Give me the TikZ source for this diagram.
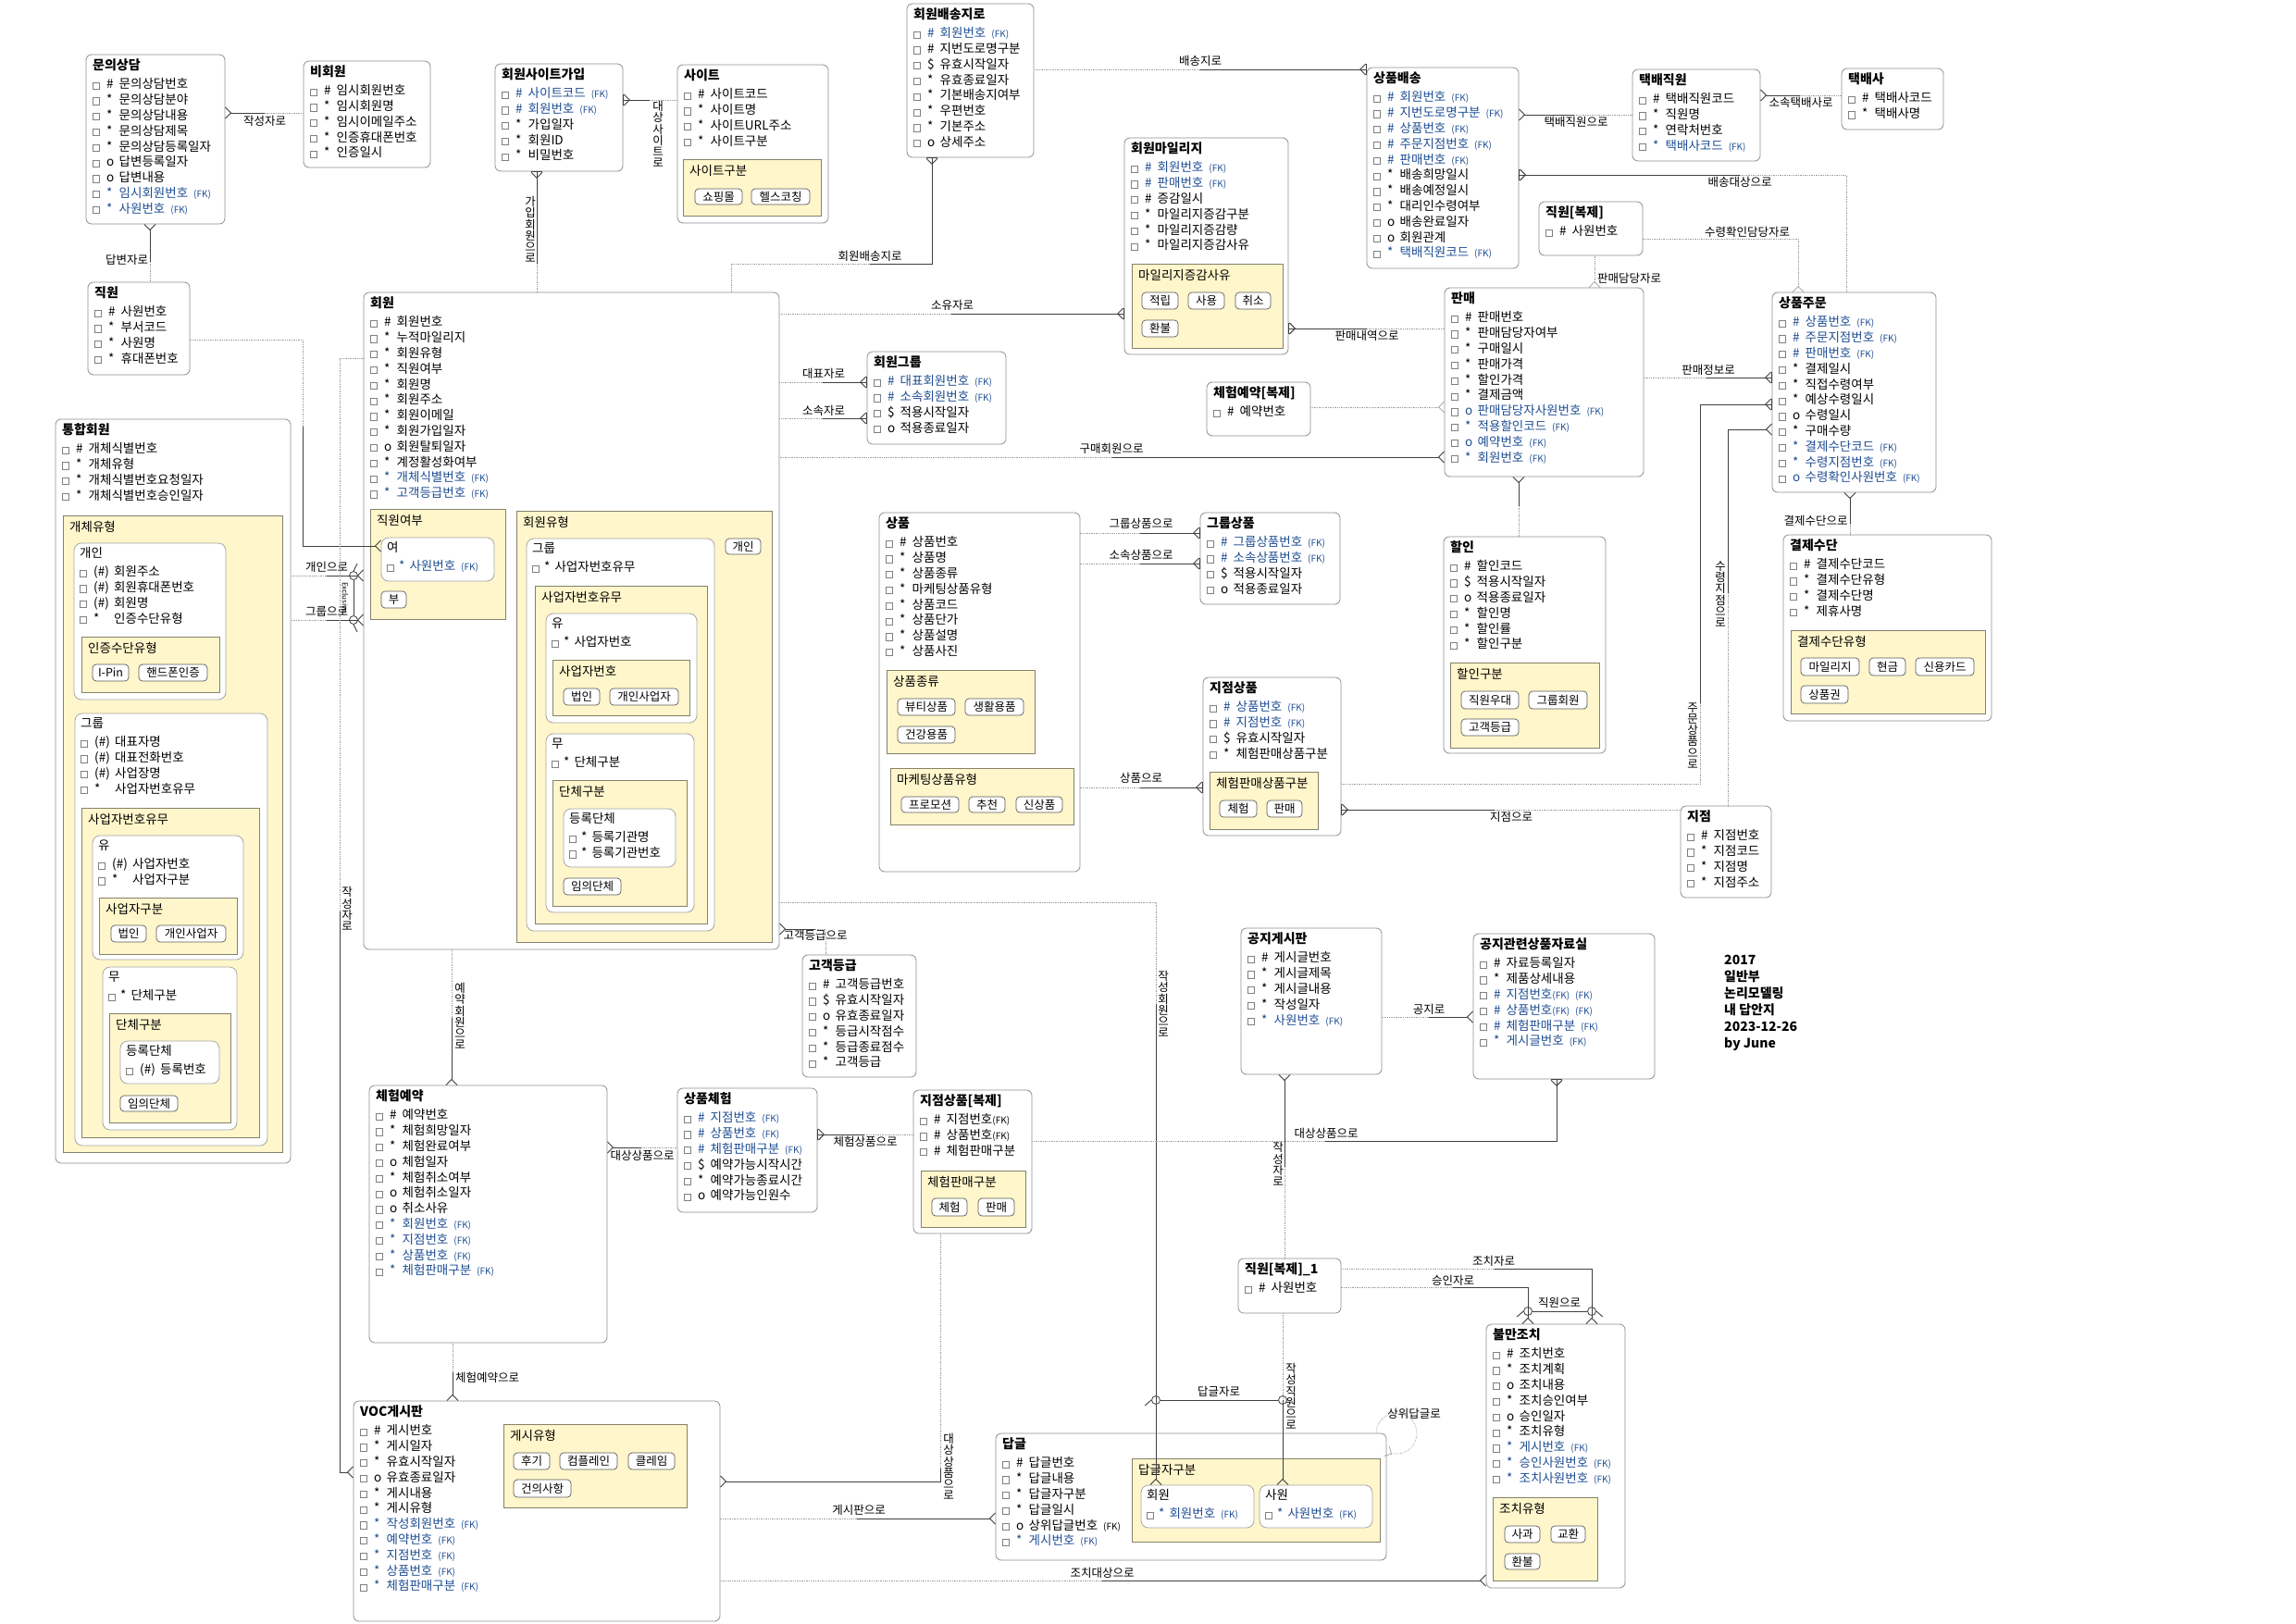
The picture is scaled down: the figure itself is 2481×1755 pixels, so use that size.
\documentclass[tikz,border=0pt]{standalone}
\usepackage{fontspec}
\setmainfont{Noto Sans CJK KR}
\usetikzlibrary{arrows.meta}

\definecolor{fkblue}{HTML}{1F4E93}
\definecolor{enumfill}{HTML}{FFF6CB}
\definecolor{enumdraw}{HTML}{85816B}
\definecolor{entdraw}{HTML}{8E8E8E}

% attribute rows
\newcommand{\chkbox}{{\color{gray}\setlength{\fboxsep}{0pt}\setlength{\fboxrule}{0.8pt}\fbox{\rule{0pt}{6.4pt}\hspace{6.4pt}}}}
\newcommand{\fksm}{{\fontsize{10}{11}\selectfont(FK)}}
\newcommand{\attr}[2]{\chkbox\hspace{7pt}\makebox[13.5pt][l]{#1}#2}
\newcommand{\fkattr}[2]{\chkbox\hspace{7pt}{\color{fkblue}\makebox[13.5pt][l]{#1}#2\hspace{6pt}\fksm}}
\newcommand{\attrw}[2]{\chkbox\hspace{7pt}\makebox[22pt][l]{#1}#2}
\newcommand{\nattr}[1]{\chkbox\hspace{5pt}*\hspace{5pt}#1}
\newcommand{\nfkattr}[1]{\chkbox\hspace{5pt}{\color{fkblue}*\hspace{5pt}#1\hspace{6pt}\fksm}}
\newcommand{\enttitle}[1]{\rule{0pt}{14pt}{\bfseries\fontsize{14}{16.8}\selectfont #1}}
\newcommand{\subttl}[1]{\rule{0pt}{14pt}#1}
\newcommand{\valbtn}[6]{\node[btn, minimum width={#4-#2}, minimum height={#5-#3}] (#1) at ({(#2+#4)/2},{(#3+#5)/2}) {#6};}

\begin{document}
\begin{tikzpicture}[
    x=1pt, y=-1pt,
    ent/.style={draw=entdraw, line width=0.8pt, rounded corners=6pt, fill=white, anchor=north west, inner sep=0pt, outer sep=0pt},
    subbox/.style={ent, rounded corners=8pt, draw=gray!70},
    enum/.style={draw=enumdraw, line width=0.9pt, fill=enumfill, anchor=north west, inner sep=0pt, outer sep=0pt},
    etxt/.style={anchor=north west, align=left, inner sep=0pt, font=\fontsize{13.5}{16.8}\selectfont},
    btn/.style={draw=gray!70!black, line width=0.7pt, rounded corners=4pt, fill=white, inner sep=0pt, font=\fontsize{12.5}{13}\selectfont},
    lbl/.style={inner sep=0pt, font=\fontsize{12.5}{12.2}\selectfont},
    vlbl/.style={lbl, align=center},
    rel/.style={draw=black!75, line width=0.9pt},
    opt/.style={draw=gray!75, line width=0.7pt, densely dotted},
    xarc/.style={circle, draw=black!75, line width=0.8pt, minimum size=9pt, inner sep=0pt},
    cf/.tip={Straight Barb[reversed, length=6pt, width=12pt]},
    cfb/.tip={Straight Barb[reversed, length=6pt, width=12pt] Bar[width=12pt]}
]
\useasboundingbox (0,0) rectangle (2481,1755);
\fill[white] (0,0) rectangle (2481,1755);

% ---------- 문의상담 / 비회원 / 직원
\node[ent, minimum width=150, minimum height=183] (munui) at (93,59) {};
\node[etxt] (munui-t) at (100,61) {\enttitle{문의상담}\\[3.8pt]
  \attr{\#}{문의상담번호}\\ \attr{*}{문의상담분야}\\ \attr{*}{문의상담내용}\\ \attr{*}{문의상담제목}\\
  \attr{*}{문의상담등록일자}\\ \attr{o}{답변등록일자}\\ \attr{o}{답변내용}\\ \fkattr{*}{임시회원번호}\\ \fkattr{*}{사원번호}};

\node[ent, minimum width=137, minimum height=115] (bihoe) at (328,66) {};
\node[etxt] (bihoe-t) at (335,68) {\enttitle{비회원}\\[3.8pt]
  \attr{\#}{임시회원번호}\\ \attr{*}{임시회원명}\\ \attr{*}{임시이메일주소}\\ \attr{*}{인증휴대폰번호}\\ \attr{*}{인증일시}};

\node[ent, minimum width=110, minimum height=100] (jikwon) at (95,305) {};
\node[etxt] (jikwon-t) at (102,307) {\enttitle{직원}\\[3.8pt]
  \attr{\#}{사원번호}\\ \attr{*}{부서코드}\\ \attr{*}{사원명}\\ \attr{*}{휴대폰번호}};

% ---------- 회원사이트가입 / 사이트 / 회원배송지로
\node[ent, minimum width=138, minimum height=116] (sitejoin) at (535,69) {};
\node[etxt] (sitejoin-t) at (542,71) {\enttitle{회원사이트가입}\\[3.8pt]
  \fkattr{\#}{사이트코드}\\ \fkattr{\#}{회원번호}\\ \attr{*}{가입일자}\\ \attr{*}{회원ID}\\ \attr{*}{비밀번호}};

\node[ent, minimum width=163, minimum height=171] (site) at (732,70) {};
\node[etxt] (site-t) at (739,72) {\enttitle{사이트}\\[3.8pt]
  \attr{\#}{사이트코드}\\ \attr{*}{사이트명}\\ \attr{*}{사이트URL주소}\\ \attr{*}{사이트구분}};
\node[enum, minimum width=149, minimum height=61] (site-kind) at (738,172) {};
\node[etxt] (site-kind-t) at (745,175) {\subttl{사이트구분}};
\valbtn{site-b1}{751}{204}{802}{221}{쇼핑몰}
\valbtn{site-b2}{812}{204}{875}{221}{헬스코칭}

\node[ent, minimum width=137, minimum height=166] (addr) at (980,4) {};
\node[etxt] (addr-t) at (987,6) {\enttitle{회원배송지로}\\[3.8pt]
  \fkattr{\#}{회원번호}\\ \attr{\#}{지번도로명구분}\\ \attr{\$}{유효시작일자}\\ \attr{*}{유효종료일자}\\
  \attr{*}{기본배송지여부}\\ \attr{*}{우편번호}\\ \attr{*}{기본주소}\\ \attr{o}{상세주소}};

% ---------- 통합회원
\node[ent, minimum width=254, minimum height=804] (tonghap) at (60,453) {};
\node[etxt] (tonghap-t) at (67,455) {\enttitle{통합회원}\\[3.8pt]
  \attr{\#}{개체식별번호}\\ \attr{*}{개체유형}\\ \attr{*}{개체식별번호요청일자}\\ \attr{*}{개체식별번호승인일자}};
\node[enum, minimum width=237, minimum height=688] (th-type) at (68,557) {};
\node[etxt] (th-type-t) at (75,560) {\subttl{개체유형}};
\node[subbox, minimum width=164, minimum height=169] (th-ind) at (80,587) {};
\node[etxt] (th-ind-t) at (86,588) {\subttl{개인}\\[3.8pt]
  \attrw{(\#)}{회원주소}\\ \attrw{(\#)}{회원휴대폰번호}\\ \attrw{(\#)}{회원명}\\ \attrw{*}{인증수단유형}};
\node[enum, minimum width=149, minimum height=60] (th-auth) at (88,688) {};
\node[etxt] (th-auth-t) at (95,691) {\subttl{인증수단유형}};
\valbtn{th-auth-b1}{100}{718}{139}{736}{I-Pin}
\valbtn{th-auth-b2}{150}{718}{224}{736}{핸드폰인증}
\node[subbox, minimum width=208, minimum height=467] (th-grp) at (81,771) {};
\node[etxt] (th-grp-t) at (87,772) {\subttl{그룹}\\[3.8pt]
  \attrw{(\#)}{대표자명}\\ \attrw{(\#)}{대표전화번호}\\ \attrw{(\#)}{사업장명}\\ \attrw{*}{사업자번호유무}};
\node[enum, minimum width=192, minimum height=356] (th-biz) at (88,873) {};
\node[etxt] (th-biz-t) at (95,876) {\subttl{사업자번호유무}};
\node[subbox, minimum width=163, minimum height=134] (th-yes) at (100,903) {};
\node[etxt] (th-yes-t) at (106,904) {\subttl{유}\\[3.8pt]
  \attrw{(\#)}{사업자번호}\\ \attrw{*}{사업자구분}};
\node[enum, minimum width=149, minimum height=61] (th-bizkind) at (107,970) {};
\node[etxt] (th-bizkind-t) at (114,973) {\subttl{사업자구분}};
\valbtn{th-bizkind-b1}{120}{1000}{158}{1018}{법인}
\valbtn{th-bizkind-b2}{169}{1000}{244}{1018}{개인사업자}
\node[subbox, minimum width=145, minimum height=176] (th-no) at (111,1045) {};
\node[etxt] (th-no-t) at (117,1046) {\subttl{무}\\[3.8pt] \nattr{단체구분}};
\node[enum, minimum width=131, minimum height=118] (th-org) at (118,1095) {};
\node[etxt] (th-org-t) at (125,1098) {\subttl{단체구분}};
\node[subbox, minimum width=107, minimum height=46] (th-reg) at (130,1125) {};
\node[etxt] (th-reg-t) at (136,1126) {\subttl{등록단체}\\[3.8pt] \attrw{(\#)}{등록번호}};
\valbtn{th-org-b1}{130}{1184}{192}{1201}{임의단체}

% ---------- 회원
\node[ent, minimum width=449, minimum height=710] (hoewon) at (393,316) {};
\node[etxt] (hoewon-t) at (400,318) {\enttitle{회원}\\[3.8pt]
  \attr{\#}{회원번호}\\ \attr{*}{누적마일리지}\\ \attr{*}{회원유형}\\ \attr{*}{직원여부}\\ \attr{*}{회원명}\\ \attr{*}{회원주소}\\
  \attr{*}{회원이메일}\\ \attr{*}{회원가입일자}\\ \attr{o}{회원탈퇴일자}\\ \attr{*}{계정활성화여부}\\ \fkattr{*}{개체식별번호}\\ \fkattr{*}{고객등급번호}};
\node[enum, minimum width=146, minimum height=119] (hm-emp) at (400,550) {};
\node[etxt] (hm-emp-t) at (407,553) {\subttl{직원여부}};
\node[subbox, minimum width=122, minimum height=47] (hm-yeo) at (412,581) {};
\node[etxt] (hm-yeo-t) at (418,582) {\subttl{여}\\[3.8pt] \nfkattr{사원번호}};
\valbtn{hm-emp-b1}{412}{639}{439}{657}{부}
\node[enum, minimum width=276, minimum height=466] (hm-type) at (558,552) {};
\node[etxt] (hm-type-t) at (565,555) {\subttl{회원유형}};
\valbtn{hm-type-b1}{784}{582}{822}{599}{개인}
\node[subbox, minimum width=203, minimum height=424] (hm-grp) at (569,582) {};
\node[etxt] (hm-grp-t) at (575,583) {\subttl{그룹}\\[3.8pt] \nattr{사업자번호유무}};
\node[enum, minimum width=186, minimum height=365] (hm-biz) at (578,633) {};
\node[etxt] (hm-biz-t) at (585,636) {\subttl{사업자번호유무}};
\node[subbox, minimum width=163, minimum height=118] (hm-yes) at (590,663) {};
\node[etxt] (hm-yes-t) at (596,664) {\subttl{유}\\[3.8pt] \nattr{사업자번호}};
\node[enum, minimum width=148, minimum height=60] (hm-bizno) at (597,713) {};
\node[etxt] (hm-bizno-t) at (604,716) {\subttl{사업자번호}};
\valbtn{hm-bizno-b1}{609}{744}{648}{762}{법인}
\valbtn{hm-bizno-b2}{659}{744}{733}{762}{개인사업자}
\node[subbox, minimum width=160, minimum height=193] (hm-no) at (590,793) {};
\node[etxt] (hm-no-t) at (596,794) {\subttl{무}\\[3.8pt] \nattr{단체구분}};
\node[enum, minimum width=145, minimum height=136] (hm-org) at (597,843) {};
\node[etxt] (hm-org-t) at (604,846) {\subttl{단체구분}};
\node[subbox, minimum width=121, minimum height=63] (hm-reg) at (609,874) {};
\node[etxt] (hm-reg-t) at (615,875) {\subttl{등록단체}\\[3.8pt] \nattr{등록기관명}\\ \nattr{등록기관번호}};
\valbtn{hm-org-b1}{609}{949}{671}{967}{임의단체}

% ---------- 회원마일리지 / 회원그룹
\node[ent, minimum width=177, minimum height=234] (mileage) at (1215,149) {};
\node[etxt] (mileage-t) at (1222,151) {\enttitle{회원마일리지}\\[3.8pt]
  \fkattr{\#}{회원번호}\\ \fkattr{\#}{판매번호}\\ \attr{\#}{증감일시}\\ \attr{*}{마일리지증감구분}\\ \attr{*}{마일리지증감량}\\ \attr{*}{마일리지증감사유}};
\node[enum, minimum width=163, minimum height=91] (mil-why) at (1223,285) {};
\node[etxt] (mil-why-t) at (1230,288) {\subttl{마일리지증감사유}};
\valbtn{mil-b1}{1234}{316}{1273}{334}{적립}
\valbtn{mil-b2}{1284}{316}{1323}{334}{사용}
\valbtn{mil-b3}{1335}{316}{1373}{334}{취소}
\valbtn{mil-b4}{1234}{346}{1273}{364}{환불}

\node[ent, minimum width=150, minimum height=100] (mgroup) at (937,380) {};
\node[etxt] (mgroup-t) at (944,382) {\enttitle{회원그룹}\\[3.8pt]
  \fkattr{\#}{대표회원번호}\\ \fkattr{\#}{소속회원번호}\\ \attr{\$}{적용시작일자}\\ \attr{o}{적용종료일자}};

% ---------- 상품배송 / 택배직원 / 택배사
\node[ent, minimum width=164, minimum height=217] (delivery) at (1477,73) {};
\node[etxt] (delivery-t) at (1484,75) {\enttitle{상품배송}\\[3.8pt]
  \fkattr{\#}{회원번호}\\ \fkattr{\#}{지번도로명구분}\\ \fkattr{\#}{상품번호}\\ \fkattr{\#}{주문지점번호}\\ \fkattr{\#}{판매번호}\\
  \attr{*}{배송희망일시}\\ \attr{*}{배송예정일시}\\ \attr{*}{대리인수령여부}\\ \attr{o}{배송완료일자}\\ \attr{o}{회원관계}\\ \fkattr{*}{택배직원코드}};

\node[ent, minimum width=138, minimum height=99] (courier) at (1764,75) {};
\node[etxt] (courier-t) at (1771,77) {\enttitle{택배직원}\\[3.8pt]
  \attr{\#}{택배직원코드}\\ \attr{*}{직원명}\\ \attr{*}{연락처번호}\\ \fkattr{*}{택배사코드}};

\node[ent, minimum width=110, minimum height=66] (company) at (1990,74) {};
\node[etxt] (company-t) at (1997,76) {\enttitle{택배사}\\[3.8pt]
  \attr{\#}{택배사코드}\\ \attr{*}{택배사명}};

% ---------- 직원[복제] / 판매 / 체험예약[복제] / 상품주문
\node[ent, minimum width=112, minimum height=58] (jikwonc) at (1663,218) {};
\node[etxt] (jikwonc-t) at (1670,220) {\enttitle{직원[복제]}\\[3.8pt] \attr{\#}{사원번호}};

\node[ent, minimum width=215, minimum height=204] (sale) at (1561,311) {};
\node[etxt] (sale-t) at (1568,313) {\enttitle{판매}\\[3.8pt]
  \attr{\#}{판매번호}\\ \attr{*}{판매담당자여부}\\ \attr{*}{구매일시}\\ \attr{*}{판매가격}\\ \attr{*}{할인가격}\\ \attr{*}{결제금액}\\
  \fkattr{o}{판매담당자사원번호}\\ \fkattr{*}{적용할인코드}\\ \fkattr{o}{예약번호}\\ \fkattr{*}{회원번호}};

\node[ent, minimum width=112, minimum height=58] (resvc) at (1304,413) {};
\node[etxt] (resvc-t) at (1311,415) {\enttitle{체험예약[복제]}\\[3.8pt] \attr{\#}{예약번호}};

\node[ent, minimum width=177, minimum height=216] (order) at (1915,316) {};
\node[etxt] (order-t) at (1922,318) {\enttitle{상품주문}\\[3.8pt]
  \fkattr{\#}{상품번호}\\ \fkattr{\#}{주문지점번호}\\ \fkattr{\#}{판매번호}\\ \attr{*}{결제일시}\\ \attr{*}{직접수령여부}\\ \attr{*}{예상수령일시}\\
  \attr{o}{수령일시}\\ \attr{*}{구매수량}\\ \fkattr{*}{결제수단코드}\\ \fkattr{*}{수령지점번호}\\ \fkattr{o}{수령확인사원번호}};

% ---------- 상품 / 그룹상품 / 지점상품 / 지점
\node[ent, minimum width=217, minimum height=388] (product) at (950,554) {};
\node[etxt] (product-t) at (957,556) {\enttitle{상품}\\[3.8pt]
  \attr{\#}{상품번호}\\ \attr{*}{상품명}\\ \attr{*}{상품종류}\\ \attr{*}{마케팅상품유형}\\ \attr{*}{상품코드}\\ \attr{*}{상품단가}\\ \attr{*}{상품설명}\\ \attr{*}{상품사진}};
\node[enum, minimum width=160, minimum height=90] (prod-kind) at (958,724) {};
\node[etxt] (prod-kind-t) at (965,727) {\subttl{상품종류}};
\valbtn{prod-kind-b1}{970}{755}{1032}{773}{뷰티상품}
\valbtn{prod-kind-b2}{1043}{755}{1106}{773}{생활용품}
\valbtn{prod-kind-b3}{970}{785}{1032}{803}{건강용품}
\node[enum, minimum width=198, minimum height=61] (prod-mkt) at (962,830) {};
\node[etxt] (prod-mkt-t) at (969,833) {\subttl{마케팅상품유형}};
\valbtn{prod-mkt-b1}{974}{861}{1036}{878}{프로모션}
\valbtn{prod-mkt-b2}{1047}{861}{1086}{878}{추천}
\valbtn{prod-mkt-b3}{1098}{861}{1148}{878}{신상품}

\node[ent, minimum width=151, minimum height=99] (gprod) at (1297,554) {};
\node[etxt] (gprod-t) at (1304,556) {\enttitle{그룹상품}\\[3.8pt]
  \fkattr{\#}{그룹상품번호}\\ \fkattr{\#}{소속상품번호}\\ \attr{\$}{적용시작일자}\\ \attr{o}{적용종료일자}};

\node[ent, minimum width=149, minimum height=171] (bprod) at (1300,732) {};
\node[etxt] (bprod-t) at (1307,734) {\enttitle{지점상품}\\[3.8pt]
  \fkattr{\#}{상품번호}\\ \fkattr{\#}{지점번호}\\ \attr{\$}{유효시작일자}\\ \attr{*}{체험판매상품구분}};
\node[enum, minimum width=117, minimum height=62] (bprod-kind) at (1307,834) {};
\node[etxt] (bprod-kind-t) at (1314,837) {\subttl{체험판매상품구분}};
\valbtn{bprod-b1}{1318}{865}{1358}{883}{체험}
\valbtn{bprod-b2}{1369}{865}{1407}{883}{판매}

\node[ent, minimum width=98, minimum height=99] (branch) at (1816,871) {};
\node[etxt] (branch-t) at (1823,873) {\enttitle{지점}\\[3.8pt]
  \attr{\#}{지점번호}\\ \attr{*}{지점코드}\\ \attr{*}{지점명}\\ \attr{*}{지점주소}};

% ---------- 할인 / 결제수단
\node[ent, minimum width=175, minimum height=234] (discount) at (1560,580) {};
\node[etxt] (discount-t) at (1567,582) {\enttitle{할인}\\[3.8pt]
  \attr{\#}{할인코드}\\ \attr{\$}{적용시작일자}\\ \attr{o}{적용종료일자}\\ \attr{*}{할인명}\\ \attr{*}{할인률}\\ \attr{*}{할인구분}};
\node[enum, minimum width=161, minimum height=92] (disc-kind) at (1567,716) {};
\node[etxt] (disc-kind-t) at (1574,719) {\subttl{할인구분}};
\valbtn{disc-b1}{1579}{747}{1641}{766}{직원우대}
\valbtn{disc-b2}{1652}{747}{1715}{766}{그룹회원}
\valbtn{disc-b3}{1579}{777}{1641}{795}{고객등급}

\node[ent, minimum width=225, minimum height=201] (payment) at (1927,578) {};
\node[etxt] (payment-t) at (1934,580) {\enttitle{결제수단}\\[3.8pt]
  \attr{\#}{결제수단코드}\\ \attr{*}{결제수단유형}\\ \attr{*}{결제수단명}\\ \attr{*}{제휴사명}};
\node[enum, minimum width=210, minimum height=90] (pay-kind) at (1935,681) {};
\node[etxt] (pay-kind-t) at (1942,684) {\subttl{결제수단유형}};
\valbtn{pay-b1}{1946}{711}{2009}{730}{마일리지}
\valbtn{pay-b2}{2020}{711}{2059}{730}{현금}
\valbtn{pay-b3}{2070}{711}{2133}{730}{신용카드}
\valbtn{pay-b4}{1946}{741}{1997}{760}{상품권}

% ---------- 고객등급 / 공지게시판 / 공지관련상품자료실
\node[ent, minimum width=123, minimum height=132] (grade) at (867,1032) {};
\node[etxt] (grade-t) at (874,1034) {\enttitle{고객등급}\\[3.8pt]
  \attr{\#}{고객등급번호}\\ \attr{\$}{유효시작일자}\\ \attr{o}{유효종료일자}\\ \attr{*}{등급시작점수}\\ \attr{*}{등급종료점수}\\ \attr{*}{고객등급}};

\node[ent, minimum width=152, minimum height=158] (notice) at (1341,1003) {};
\node[etxt] (notice-t) at (1348,1005) {\enttitle{공지게시판}\\[3.8pt]
  \attr{\#}{게시글번호}\\ \attr{*}{게시글제목}\\ \attr{*}{게시글내용}\\ \attr{*}{작성일자}\\ \fkattr{*}{사원번호}};

\node[ent, minimum width=196, minimum height=157] (nfile) at (1592,1009) {};
\node[etxt] (nfile-t) at (1599,1011) {\enttitle{공지관련상품자료실}\\[3.8pt]
  \attr{\#}{자료등록일자}\\ \attr{*}{제품상세내용}\\ \fkattr{\#}{지점번호\fksm}\\ \fkattr{\#}{상품번호\fksm}\\ \fkattr{\#}{체험판매구분}\\ \fkattr{*}{게시글번호}};

% ---------- 체험예약 / 상품체험 / 지점상품[복제]
\node[ent, minimum width=257, minimum height=278] (resv) at (399,1173) {};
\node[etxt] (resv-t) at (406,1175) {\enttitle{체험예약}\\[3.8pt]
  \attr{\#}{예약번호}\\ \attr{*}{체험희망일자}\\ \attr{*}{체험완료여부}\\ \attr{o}{체험일자}\\ \attr{*}{체험취소여부}\\ \attr{o}{체험취소일자}\\
  \attr{o}{취소사유}\\ \fkattr{*}{회원번호}\\ \fkattr{*}{지점번호}\\ \fkattr{*}{상품번호}\\ \fkattr{*}{체험판매구분}};

\node[ent, minimum width=151, minimum height=134] (pexp) at (732,1176) {};
\node[etxt] (pexp-t) at (739,1178) {\enttitle{상품체험}\\[3.8pt]
  \fkattr{\#}{지점번호}\\ \fkattr{\#}{상품번호}\\ \fkattr{\#}{체험판매구분}\\ \attr{\$}{예약가능시작시간}\\ \attr{*}{예약가능종료시간}\\ \attr{o}{예약가능인원수}};

\node[ent, minimum width=128, minimum height=155] (bprodc) at (987,1178) {};
\node[etxt] (bprodc-t) at (994,1180) {\enttitle{지점상품[복제]}\\[3.8pt]
  \attr{\#}{지점번호\fksm}\\ \attr{\#}{상품번호\fksm}\\ \attr{\#}{체험판매구분}};
\node[enum, minimum width=113, minimum height=61] (bprodc-kind) at (995,1265) {};
\node[etxt] (bprodc-kind-t) at (1002,1268) {\subttl{체험판매구분}};
\valbtn{bprodc-b1}{1007}{1295}{1045}{1314}{체험}
\valbtn{bprodc-b2}{1057}{1295}{1096}{1314}{판매}

% ---------- VOC게시판 / 답글 / 직원[복제]_1 / 불만조치
\node[ent, minimum width=396, minimum height=238] (voc) at (382,1514) {};
\node[etxt] (voc-t) at (389,1516) {\enttitle{VOC게시판}\\[3.8pt]
  \attr{\#}{게시번호}\\ \attr{*}{게시일자}\\ \attr{*}{유효시작일자}\\ \attr{o}{유효종료일자}\\ \attr{*}{게시내용}\\ \attr{*}{게시유형}\\
  \fkattr{*}{작성회원번호}\\ \fkattr{*}{예약번호}\\ \fkattr{*}{지점번호}\\ \fkattr{*}{상품번호}\\ \fkattr{*}{체험판매구분}};
\node[enum, minimum width=198, minimum height=90] (voc-kind) at (544,1539) {};
\node[etxt] (voc-kind-t) at (551,1542) {\subttl{게시유형}};
\valbtn{voc-b1}{555}{1570}{594}{1588}{후기}
\valbtn{voc-b2}{605}{1570}{667}{1588}{컴플레인}
\valbtn{voc-b3}{679}{1570}{729}{1588}{클레임}
\valbtn{voc-b4}{555}{1599}{617}{1618}{건의사항}

\node[ent, minimum width=422, minimum height=137] (reply) at (1076,1549) {};
\node[etxt] (reply-t) at (1083,1551) {\enttitle{답글}\\[3.8pt]
  \attr{\#}{답글번호}\\ \attr{*}{답글내용}\\ \attr{*}{답글자구분}\\ \attr{*}{답글일시}\\ \attr{o}{상위답글번호\hspace{6pt}\fksm}\\ \fkattr{*}{게시번호}};
\node[enum, minimum width=268, minimum height=90] (rp-kind) at (1223,1576) {};
\node[etxt] (rp-kind-t) at (1230,1579) {\subttl{답글자구분}};
\node[subbox, minimum width=122, minimum height=46] (rp-mem) at (1233,1605) {};
\node[etxt] (rp-mem-t) at (1239,1606) {\subttl{회원}\\[3.8pt] \nfkattr{회원번호}};
\node[subbox, minimum width=122, minimum height=46] (rp-emp) at (1361,1605) {};
\node[etxt] (rp-emp-t) at (1367,1606) {\subttl{사원}\\[3.8pt] \nfkattr{사원번호}};

\node[ent, minimum width=111, minimum height=59] (jikwonc1) at (1338,1360) {};
\node[etxt] (jikwonc1-t) at (1345,1362) {\enttitle{직원[복제]\_1}\\[3.8pt] \attr{\#}{사원번호}};

\node[ent, minimum width=150, minimum height=285] (complaint) at (1606,1431) {};
\node[etxt] (complaint-t) at (1613,1433) {\enttitle{불만조치}\\[3.8pt]
  \attr{\#}{조치번호}\\ \attr{*}{조치계획}\\ \attr{o}{조치내용}\\ \attr{*}{조치승인여부}\\ \attr{o}{승인일자}\\ \attr{*}{조치유형}\\
  \fkattr{*}{게시번호}\\ \fkattr{*}{승인사원번호}\\ \fkattr{*}{조치사원번호}};
\node[enum, minimum width=113, minimum height=90] (cp-kind) at (1613,1618) {};
\node[etxt] (cp-kind-t) at (1620,1621) {\subttl{조치유형}};
\valbtn{cp-b1}{1626}{1649}{1664}{1667}{사과}
\valbtn{cp-b2}{1676}{1649}{1713}{1667}{교환}
\valbtn{cp-b3}{1626}{1679}{1664}{1696}{환불}

% ---------- note
\node[anchor=north west, align=left, inner sep=0pt, font=\bfseries\fontsize{14}{18}\selectfont] (note) at (1863,1028)
  {\rule{0pt}{14pt}2017\\일반부\\논리모델링\\내 답안지\\2023-12-26\\by June};

% ---------- relationships
% 문의상담 - 비회원 / 직원
\draw[rel, {cf}-] (munui.east |- 0,122) -- (286,122);
\draw[opt] (286,122) -- (bihoe.west |- 0,122);
\node[lbl] (l-r1) at (286,131) {작성자로};
\draw[rel, {cf}-] (munui.south -| 162,0) -- (162,283);
\draw[opt] (162,283) -- (jikwon.north -| 162,0);
\node[lbl] (l-r2) at (137,281) {답변자로};

% 회원사이트가입
\draw[rel, {cfb}-] (sitejoin.south -| 580,0) -- (580,285);
\draw[opt] (580,285) -- (hoewon.north -| 580,0);
\node[vlbl] (l-r3) at (573,248) {가\\입\\회\\원\\으\\로};
\draw[rel, {cfb}-] (sitejoin.east |- 0,108) -- (702,108);
\draw[opt] (702,108) -- (site.west |- 0,108);
\node[vlbl] (l-r4) at (711,145) {대\\상\\사\\이\\트\\로};

% 회원배송지로 / 상품배송
\draw[rel, {cfb}-] (addr.south -| 1007,0) -- (1007,285) -- (940,285);
\draw[opt] (940,285) -- (790,285) -- (hoewon.north -| 790,0);
\node[lbl] (l-r5) at (940,277) {회원배송지로};
\draw[rel, {cfb}-] (delivery.west |- 0,75) -- (1297,75);
\draw[opt] (1297,75) -- (addr.east |- 0,75);
\node[lbl] (l-r6) at (1297,66) {배송지로};
\draw[rel, {cf}-] (delivery.east |- 0,124) -- (1701,124);
\draw[opt] (1701,124) -- (courier.west |- 0,124);
\node[lbl] (l-r7) at (1703,132) {택배직원으로};
\draw[rel, {cf}-] (courier.east |- 0,103) -- (1945,103);
\draw[opt] (1945,103) -- (company.west |- 0,103);
\node[lbl] (l-r8) at (1946,111) {소속택배사로};
\draw[rel, {cfb}-] (delivery.east |- 0,189) -- (1880,189);
\draw[opt] (1880,189) -- (1995,189) -- (order.north -| 1995,0);
\node[lbl] (l-r9) at (1880,197) {배송대상으로};

% 회원마일리지 / 판매
\draw[rel, {cfb}-] (mileage.west |- 0,339) -- (1028,339);
\draw[opt] (1028,339) -- (hoewon.east |- 0,339);
\node[lbl] (l-r10) at (1029,330) {소유자로};
\draw[rel, {cfb}-] (mileage.east |- 0,355) -- (1477,355);
\draw[opt] (1477,355) -- (sale.west |- 0,355);
\node[lbl] (l-r11) at (1477,363) {판매내역으로};
\draw[opt, {cf}-] (sale.north -| 1723,0) -- (jikwonc.south -| 1723,0);
\node[lbl, anchor=west] (l-r12) at (1726,301) {판매담당자로};
\draw[opt, {cf}-] (order.north -| 1943,0) -- (1943,258) -- (jikwonc.east |- 0,258);
\node[lbl] (l-r13) at (1888,251) {수령확인담당자로};
\draw[rel, {cfb}-] (order.west |- 0,408) -- (1844,408);
\draw[opt] (1844,408) -- (sale.east |- 0,408);
\node[lbl] (l-r14) at (1846,400) {판매정보로};
\draw[rel, {cfb}-] (order.west |- 0,437) -- (1837,437) -- (1837,760);
\draw[opt] (1837,760) -- (1837,847) -- (bprod.east |- 0,847);
\node[vlbl] (l-r15) at (1829,795) {주\\문\\상\\품\\으\\로};
\draw[rel, {cf}-] (order.west |- 0,464) -- (1867,464) -- (1867,641);
\draw[opt] (1867,641) -- (branch.north -| 1867,0);
\node[vlbl] (l-r16) at (1859,642) {수\\령\\지\\점\\으\\로};
\draw[rel, {cf}-] (order.south -| 1999,0) -- (1999,566);
\draw[opt] (1999,566) -- (payment.north -| 1999,0);
\node[lbl] (l-r17) at (1962,563) {결제수단으로};
\draw[rel, {cf}-] (sale.west |- 0,494) -- (1202,494);
\draw[opt] (1202,494) -- (hoewon.east |- 0,494);
\node[lbl] (l-r18) at (1201,485) {구매회원으로};
\draw[opt, {cf}-] (sale.west |- 0,440) -- (resvc.east |- 0,440);
\draw[rel, {cf}-] (sale.south -| 1641,0) -- (1641,547);
\draw[opt] (1641,547) -- (discount.north -| 1641,0);

% 회원그룹
\draw[rel, {cfb}-] (mgroup.west |- 0,413) -- (889,413);
\draw[opt] (889,413) -- (hoewon.east |- 0,413);
\node[lbl] (l-r21) at (890,404) {대표자로};
\draw[rel, {cfb}-] (mgroup.west |- 0,452) -- (889,452);
\draw[opt] (889,452) -- (hoewon.east |- 0,452);
\node[lbl] (l-r22) at (890,444) {소속자로};

% 상품 계열
\draw[rel, {cfb}-] (gprod.west |- 0,576) -- (1232,576);
\draw[opt] (1232,576) -- (product.east |- 0,576);
\node[lbl] (l-r23) at (1233,566) {그룹상품으로};
\draw[rel, {cfb}-] (gprod.west |- 0,609) -- (1232,609);
\draw[opt] (1232,609) -- (product.east |- 0,609);
\node[lbl] (l-r24) at (1233,600) {소속상품으로};
\draw[rel, {cfb}-] (bprod.west |- 0,851) -- (1232,851);
\draw[opt] (1232,851) -- (product.east |- 0,851);
\node[lbl] (l-r25) at (1233,841) {상품으로};
\draw[rel, {cfb}-] (bprod.east |- 0,875) -- (1615,875);
\draw[opt] (1615,875) -- (branch.west |- 0,875);
\node[lbl] (l-r26) at (1633,883) {지점으로};

% 고객등급
\draw[rel, {cf}-] (hoewon.east |- 0,1004) -- (881,1004);
\draw[opt] (881,1004) -- (892,1004) -- (grade.north -| 892,0);
\node[lbl] (l-r27) at (881,1011) {고객등급으로};

% 통합회원 - 회원 (exclusive)
\draw[rel, {cf}-] (hoewon.west |- 0,622) -- (353,622);
\draw[opt] (353,622) -- (tonghap.east |- 0,622);
\node[lbl] (l-r32) at (353,613) {개인으로};
\draw[rel, {cf}-] (hoewon.west |- 0,670) -- (353,670);
\draw[opt] (353,670) -- (tonghap.east |- 0,670);
\node[lbl] (l-r33) at (353,661) {그룹으로};
\node[xarc] (xc1) at (382,622) {};
\node[xarc] (xc2) at (382,670) {};
\draw[rel] (xc1) -- (xc2);
\draw[rel] (xc1.north) -- ++(4,-8);
\draw[rel] (xc2.south) -- ++(4,8);
\node[rotate=-90, inner sep=0pt, font=\fontsize{8}{8}\selectfont] (l-excl) at (373,646) {Exclusive};

% 직원 - 여
\draw[rel, {cf}-] (hm-yeo.west |- 0,590) -- (327,590) -- (327,461);
\draw[opt] (327,461) -- (327,367) -- (jikwon.east |- 0,367);

% 회원 - VOC게시판 (작성자로)
\draw[rel, {cf}-] (voc.west |- 0,1591) -- (367,1591) -- (367,985);
\draw[opt] (367,985) -- (367,387) -- (hoewon.west |- 0,387);
\node[vlbl] (l-r30) at (375,982) {작\\성\\자\\로};

% 체험예약
\draw[rel, {cf}-] (resv.north -| 488,0) -- (488,1100);
\draw[opt] (488,1100) -- (hoewon.south -| 488,0);
\node[vlbl] (l-r34) at (497,1098) {예\\약\\회\\원\\으\\로};
\draw[rel, {cf}-] (resv.east |- 0,1240) -- (693,1240);
\draw[opt] (693,1240) -- (pexp.west |- 0,1240);
\node[lbl] (l-r35) at (694,1249) {대상상품으로};
\draw[rel, {cfb}-] (pexp.east |- 0,1226) -- (934,1226);
\draw[opt] (934,1226) -- (bprodc.west |- 0,1226);
\node[lbl] (l-r36) at (935,1234) {체험상품으로};
\draw[rel, {cf}-] (voc.north -| 489,0) -- (489,1483);
\draw[opt] (489,1483) -- (resv.south -| 489,0);
\node[lbl, anchor=west] (l-r37) at (492,1489) {체험예약으로};

% VOC게시판 / 답글 / 불만조치
\draw[rel, {cf}-] (voc.east |- 0,1601) -- (1016,1601) -- (1016,1587);
\draw[opt] (1016,1587) -- (bprodc.south -| 1016,0);
\node[vlbl] (l-r38) at (1025,1585) {대\\상\\상\\품\\으\\로};
\draw[rel, {cf}-] (reply.west |- 0,1641) -- (926,1641);
\draw[opt] (926,1641) -- (voc.east |- 0,1641);
\node[lbl] (l-r39) at (928,1632) {게시판으로};
\draw[rel, {cf}-] (complaint.west |- 0,1708) -- (1191,1708);
\draw[opt] (1191,1708) -- (voc.east |- 0,1708);
\node[lbl] (l-r40) at (1191,1700) {조치대상으로};
\draw[opt, -{cf}] (reply.north -| 1487,0) arc[start angle=180, end angle=480, radius=22];
\node[lbl] (l-r41) at (1528,1528) {상위답글로};

% 답글자 (exclusive)
\draw[opt] (hoewon.east |- 0,975) -- (1249,975) -- (1249,1085);
\draw[rel, -{cf}] (1249,1085) -- (rp-mem.north -| 1249,0);
\node[vlbl] (l-r28) at (1257,1085) {작\\성\\회\\원\\으\\로};
\draw[opt] (jikwonc1.south -| 1386,0) -- (1386,1513);
\draw[rel, -{cf}] (1386,1513) -- (rp-emp.north -| 1386,0);
\node[vlbl] (l-r29) at (1395,1509) {작\\성\\직\\원\\으\\로};
\node[xarc] (xc3) at (1249,1513) {};
\node[xarc] (xc4) at (1386,1513) {};
\draw[rel] (xc3) -- (xc4);
\draw[rel] (xc3.west) -- ++(-7,6);
\node[lbl] (l-r29b) at (1317,1504) {답글자로};

% 공지게시판 / 자료실
\draw[rel, {cf}-] (notice.south -| 1388,0) -- (1388,1261);
\draw[opt] (1388,1261) -- (jikwonc1.north -| 1388,0);
\node[vlbl] (l-r42) at (1381,1258) {작\\성\\자\\로};
\draw[rel, {cfb}-] (nfile.south -| 1682,0) -- (1682,1233) -- (1432,1233);
\draw[opt] (1432,1233) -- (bprodc.east |- 0,1233);
\node[lbl] (l-r43) at (1433,1225) {대상상품으로};
\draw[rel, {cf}-] (nfile.west |- 0,1099) -- (1544,1099);
\draw[opt] (1544,1099) -- (notice.east |- 0,1099);
\node[lbl] (l-r44) at (1544,1091) {공지로};

% 불만조치 담당 (exclusive)
\draw[rel, {cf}-] (complaint.north -| 1720,0) -- (1720,1371) -- (1615,1371);
\draw[opt] (1615,1371) -- (jikwonc1.east |- 0,1371);
\node[lbl] (l-r45) at (1614,1363) {조치자로};
\draw[rel, {cf}-] (complaint.north -| 1651,0) -- (1651,1391) -- (1570,1391);
\draw[opt] (1570,1391) -- (jikwonc1.east |- 0,1391);
\node[lbl] (l-r46) at (1570,1384) {승인자로};
\node[xarc] (xc5) at (1651,1417) {};
\node[xarc] (xc6) at (1720,1417) {};
\draw[rel] (xc5) -- (xc6);
\draw[rel] (xc5.west) -- ++(-7,6);
\draw[rel] (xc6.east) -- ++(7,6);
\node[lbl] (l-r47) at (1685,1408) {직원으로};

\end{tikzpicture}
\end{document}
